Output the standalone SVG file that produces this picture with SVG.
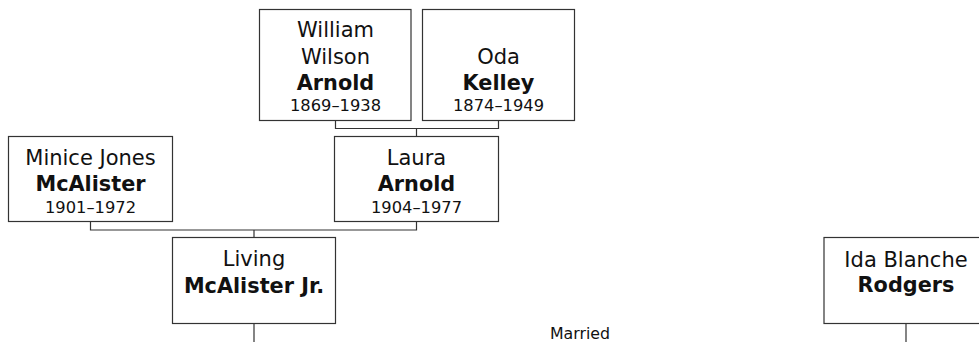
<svg xmlns="http://www.w3.org/2000/svg" width="979" height="342" viewBox="0 0 979 342">
<style>
.box{fill:#fff;stroke:#333;stroke-width:1.2}
.ln{fill:none;stroke:#333;stroke-width:1.2}
text{font-family:"DejaVu Sans",Verdana,sans-serif;text-anchor:middle;fill:#111}
.n{font-size:21px}
.b{font-size:20.8px;font-weight:bold}
.y{font-size:16.3px}
.m{font-size:15.8px}
</style>
<rect width="979" height="342" fill="#fff"/>
<g id="connectors">
<path class="ln" d="M335.5 120.5V128.5H498.5V120.5M416.5 128.5V136.5"/>
<path class="ln" d="M90.5 221.5V230H416.5V221.5M254 230V237.5"/>
<path class="ln" d="M254 323.5V342"/>
<path class="ln" d="M906 323.5V342"/>
</g>
<g id="william">
<rect class="box" x="259.5" y="9.5" width="151.5" height="111"/>
<text class="n" x="335.5" y="37">William</text>
<text class="n" x="335.5" y="63.5">Wilson</text>
<text class="b" x="335.5" y="90">Arnold</text>
<text class="y" x="335.5" y="111">1869–1938</text>
</g>
<g id="oda">
<rect class="box" x="422.5" y="9.5" width="152" height="111"/>
<text class="n" x="498.5" y="63.5">Oda</text>
<text class="b" x="498.5" y="90">Kelley</text>
<text class="y" x="498.5" y="111">1874–1949</text>
</g>
<g id="minice">
<rect class="box" x="8.5" y="136.5" width="164" height="85"/>
<text class="n" x="90.5" y="165">Minice Jones</text>
<text class="b" x="90.5" y="191">McAlister</text>
<text class="y" x="90.5" y="212.5">1901–1972</text>
</g>
<g id="laura">
<rect class="box" x="334.5" y="136.5" width="164" height="85"/>
<text class="n" x="416.5" y="165">Laura</text>
<text class="b" x="416.5" y="191">Arnold</text>
<text class="y" x="416.5" y="212.5">1904–1977</text>
</g>
<g id="living">
<rect class="box" x="172.5" y="237.5" width="163" height="86"/>
<text class="n" x="254" y="266">Living</text>
<text class="b" x="254" y="292.5">McAlister Jr.</text>
</g>
<g id="ida">
<rect class="box" x="824" y="237.5" width="164" height="86"/>
<text class="n" x="906" y="266.5">Ida Blanche</text>
<text class="b" x="906" y="292">Rodgers</text>
</g>
<text class="m" x="580" y="339.3">Married</text>
</svg>
